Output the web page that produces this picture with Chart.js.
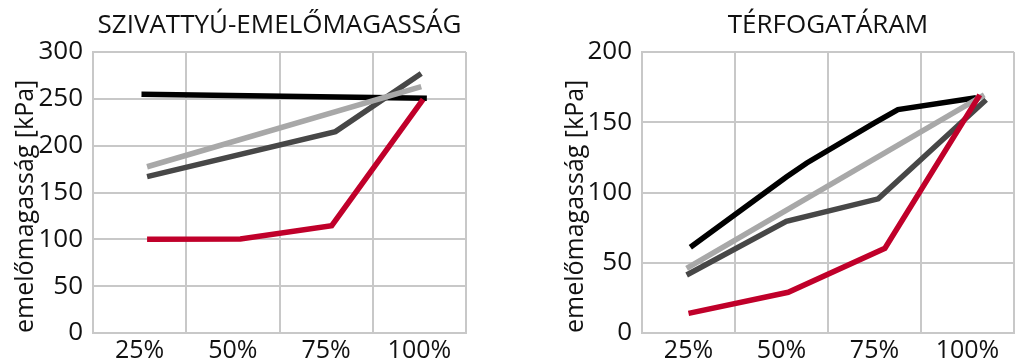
<!DOCTYPE html>
<html lang="hu">
<head>
    <meta charset="UTF-8">
    <title>Szivattyú-emelőmagasság és térfogatáram</title>
    <style>
        body {
            margin: 0;
            background: #ffffff;
        }
        #wrap {
            display: flex;
            width: 1019px;
            height: 364px;
        }
    </style>
    <script src="https://cdn.jsdelivr.net/npm/chart.js"></script>
</head>
<body>
    <div id="wrap">
        <canvas id="grafikonBal" width="510" height="364"></canvas>
        <canvas id="grafikonJobb" width="509" height="364"></canvas>
    </div>

    <script>
        // kategóriák (x tengely feliratai)
        const kategoriak = ['25%', '50%', '75%', '100%'];

        // bal: szivattyú-emelőmagasság, x = százalék, y = kPa
        const balFeketeX = [25.5, 102];
        const balFeketeY = [255, 250.5];
        const balSotetX = [27, 77.5, 100.5];
        const balSotetY = [167, 215, 277];
        const balVilagosX = [27, 100.5];
        const balVilagosY = [177.5, 263];
        const balPirosX = [27, 52, 76.5, 101];
        const balPirosY = [100, 100.4, 114.6, 249.5];

        // jobb: térfogatáram
        const jobbFeketeX = [25.5, 51.3, 56.8, 75, 81.3, 102.3];
        const jobbFeketeY = [61, 111, 121, 149.5, 159, 167.5];
        const jobbSotetX = [24.5, 51.3, 76, 105];
        const jobbSotetY = [41.3, 79.5, 95.5, 166];
        const jobbVilagosX = [24.5, 104.5];
        const jobbVilagosY = [46, 169.5];
        const jobbPirosX = [25, 51.8, 77.8, 103.3];
        const jobbPirosY = [14, 29, 60.3, 169.5];

        const betu = "'Open Sans', 'Noto Sans', sans-serif";
        const racsSzin = '#c8c8c8';

        function pontok(xs, ys) {
            return xs.map((x, i) => ({ x: x, y: ys[i] }));
        }

        function vonal(xs, ys, szin) {
            return {
                data: pontok(xs, ys),
                borderColor: szin,
                backgroundColor: szin,
                borderWidth: 5.5,
                pointRadius: 0,
                tension: 0,
                xAxisID: 'x2',
                yAxisID: 'y',
            };
        }

        function keszitGrafikon(id, cim, sorok, yMax, yTengelySzel, tengelyCimPad, jobbPad) {
            return new Chart(document.getElementById(id), {
                type: 'line',
                data: {
                    labels: kategoriak,
                    datasets: sorok,
                },
                options: {
                    responsive: false,
                    animation: false,
                    layout: { padding: { left: 0, right: jobbPad, top: 0, bottom: 0 } },
                    plugins: {
                        legend: { display: false },
                        tooltip: { enabled: false },
                        title: {
                            display: true,
                            text: cim,
                            fullSize: false,
                            color: '#111111',
                            font: { family: betu, size: 26, weight: 'normal' },
                            padding: { top: 10.4, bottom: 10.4 },
                        },
                    },
                    scales: {
                        x: {
                            type: 'category',
                            offset: true,
                            grid: { offset: true, color: racsSzin, lineWidth: 2, drawTicks: false },
                            border: { color: racsSzin, width: 2 },
                            ticks: { color: '#111111', font: { family: betu, size: 25 }, padding: 3 },
                            afterFit: (s) => { s.height = 31; },
                        },
                        x2: {
                            type: 'linear',
                            display: false,
                            min: 12.5,
                            max: 112.5,
                        },
                        y: {
                            min: 0,
                            max: yMax,
                            grid: { color: racsSzin, lineWidth: 2, drawTicks: false },
                            border: { color: racsSzin, width: 2 },
                            ticks: { stepSize: 50, color: '#111111', font: { family: betu, size: 26 }, padding: 10 },
                            title: {
                                display: true,
                                text: 'emelőmagasság [kPa]',
                                align: 'start',
                                color: '#111111',
                                font: { family: betu, size: 25 },
                                padding: { top: tengelyCimPad, bottom: 0 },
                            },
                            afterFit: (s) => { s.width = yTengelySzel; },
                        },
                    },
                },
            });
        }

        // az első adatsor kerül legfelülre
        keszitGrafikon('grafikonBal', 'SZIVATTYÚ-EMELŐMAGASSÁG', [
            vonal(balPirosX, balPirosY, '#c0002a'),
            vonal(balVilagosX, balVilagosY, '#a8a8a8'),
            vonal(balSotetX, balSotetY, '#474747'),
            vonal(balFeketeX, balFeketeY, '#000000'),
        ], 300, 93, 10.5, 44);

        keszitGrafikon('grafikonJobb', 'TÉRFOGATÁRAM', [
            vonal(jobbPirosX, jobbPirosY, '#c0002a'),
            vonal(jobbVilagosX, jobbVilagosY, '#a8a8a8'),
            vonal(jobbSotetX, jobbSotetY, '#474747'),
            vonal(jobbFeketeX, jobbFeketeY, '#000000'),
        ], 200, 132, 50.5, 5);
    </script>
</body>
</html>
